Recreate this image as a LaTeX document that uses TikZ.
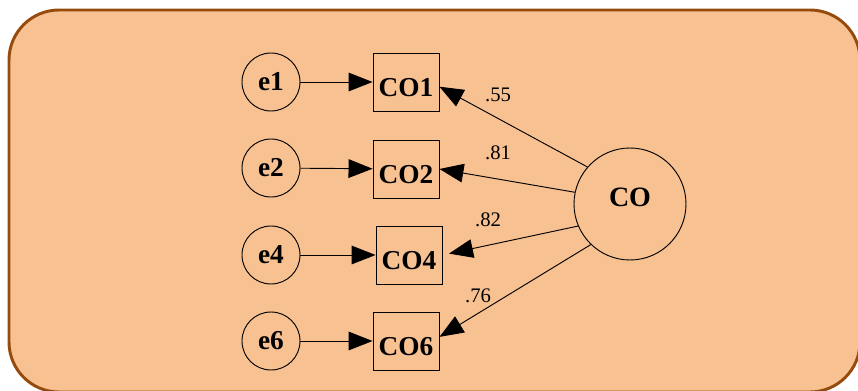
\documentclass[tikz,border=0pt]{standalone}
\usepackage{fontspec}
\setmainfont{Liberation Serif}
\usetikzlibrary{arrows.meta}

\definecolor{panelfill}{RGB}{248,193,146}
\definecolor{paneledge}{RGB}{150,74,12}

\begin{document}
\begin{tikzpicture}[x=0.75pt,y=0.75pt,yscale=-1,xscale=1,
  err/.style={draw,circle,line width=0.7pt,minimum size=43.5pt,inner sep=0pt,font=\fontsize{20.5}{22}\selectfont\bfseries},
  obs/.style={draw,rectangle,line width=0.7pt,minimum width=49.5pt,minimum height=43.5pt,inner sep=0pt,
    text height=24pt,text depth=1.5pt,font=\fontsize{20.5}{22}\selectfont\bfseries},
  lat/.style={draw,circle,line width=0.7pt,minimum size=84pt,inner sep=0pt,
    text height=8pt,text depth=4.6pt,font=\fontsize{21}{23}\selectfont\bfseries},
  path/.style={line width=0.7pt,-{Triangle[length=18pt,width=14pt]}},
  coef/.style={font=\fontsize{15.5}{17}\selectfont}]
\useasboundingbox (0,0) rectangle (858,391);

%Shape: Rounded Rect [id:panel]
\draw [draw=paneledge,fill=panelfill,line width=2.2pt,rounded corners=37.5pt] (9,10) rectangle (860,392) ;

%Shape: Circle (errors)
\node [err] (e1) at (271,82) {e1};
\node [err] (e2) at (271,168) {e2};
\node [err] (e4) at (271,255) {e4};
\node [err] (e6) at (271,341) {e6};

%Shape: Square (observed)
\node [obs] (CO1) at (406,82) {CO1};
\node [obs] (CO2) at (406,169) {CO2};
\node [obs] (CO4) at (409,255) {CO4};
\node [obs] (CO6) at (406,341) {CO6};

%Shape: Circle (latent)
\node [lat] (CO) at (630,204) {CO};

%Straight Lines: error terms
\draw [path] (e1) -- (CO1) ;
\draw [path] (e2) -- (CO2) ;
\draw [path] (e4) -- (CO4) ;
\draw [path] (e6) -- (CO6) ;

%Straight Lines: loadings
\draw [path] (CO.139) -- (CO1.-8) ;
\draw [path] (CO.168) -- (CO2.east) ;
\draw [path,shorten >=5pt] (CO.203) -- (CO4.east) ;
\draw [path] (CO.226) -- (CO6.7) ;

% Text Node
\node [coef] (l1) at (498,95) {.55};
% Text Node
\node [coef] (l2) at (498,153) {.81};
% Text Node
\node [coef] (l4) at (488,220) {.82};
% Text Node
\node [coef] (l6) at (478,296) {.76};

\end{tikzpicture}
\end{document}
